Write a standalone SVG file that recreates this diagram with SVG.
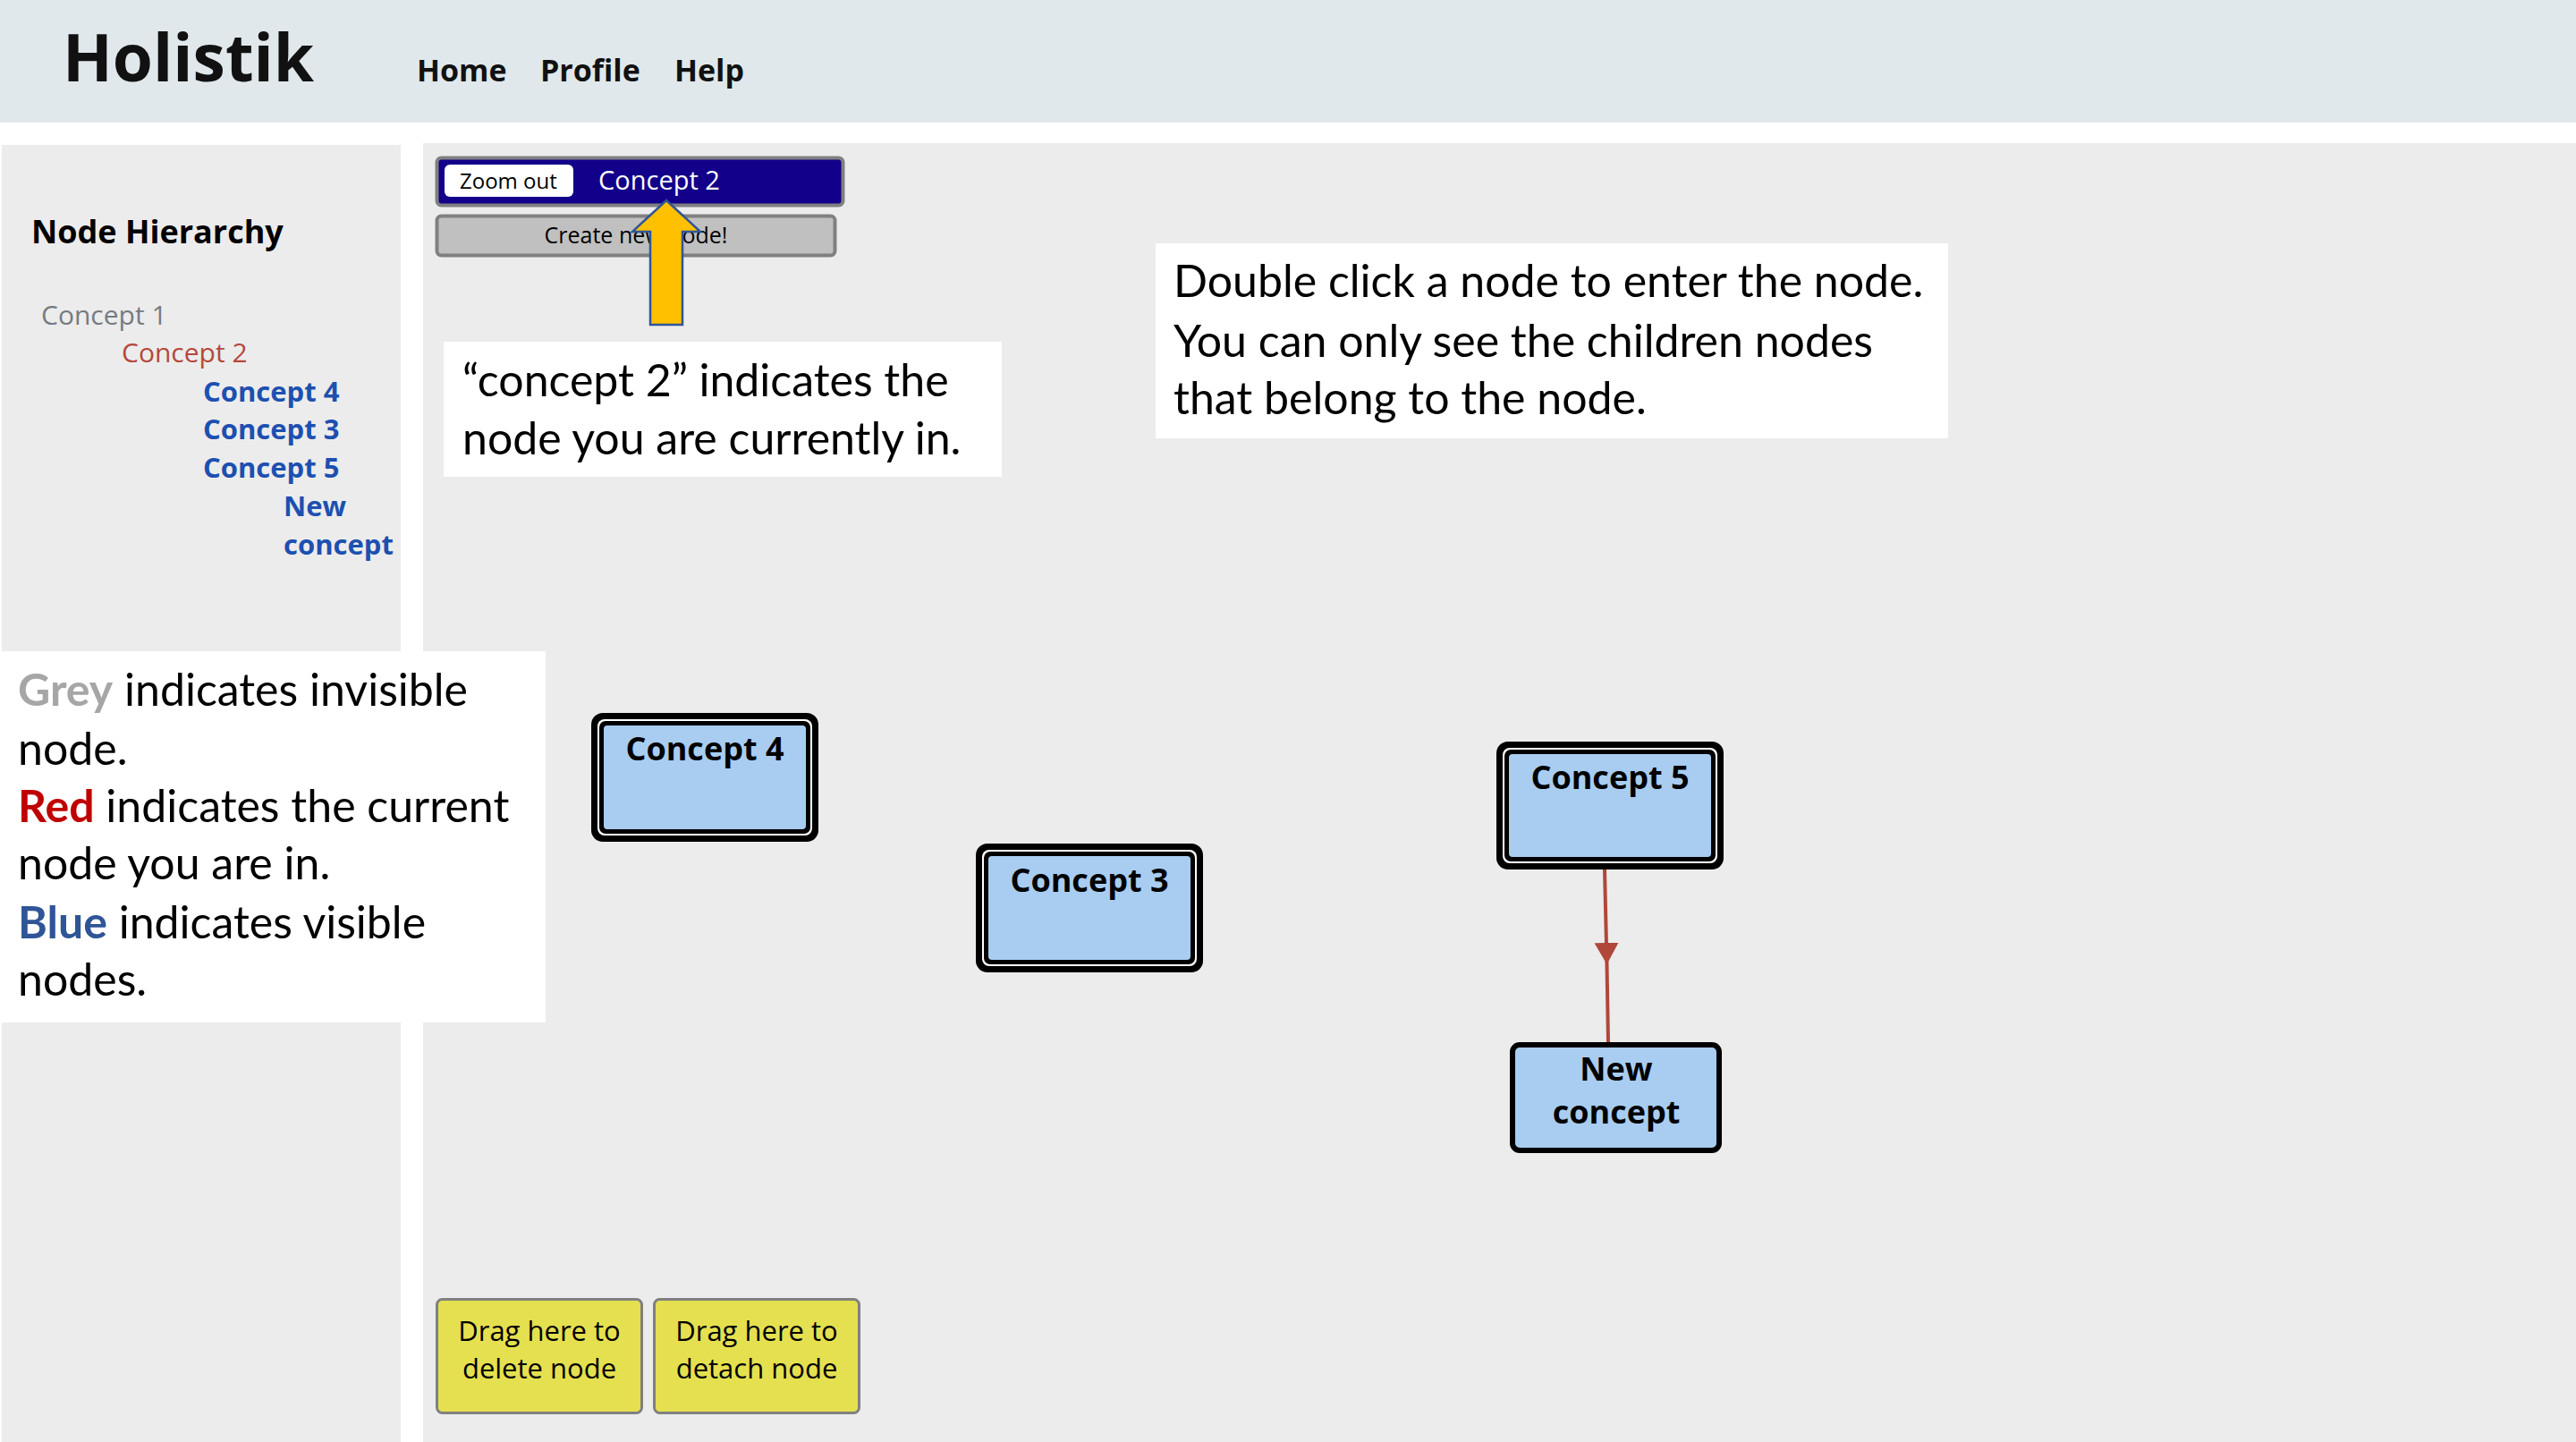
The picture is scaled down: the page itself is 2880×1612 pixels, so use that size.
<svg xmlns="http://www.w3.org/2000/svg" width="2880" height="1612" viewBox="0 0 2880 1612">
  <defs>
    <style>
      .app { font-family: "Open Sans", "Noto Sans", "DejaVu Sans", sans-serif; }
      .b { font-weight: 700; }
      .note { font-family: Lato, "Open Sans", sans-serif; font-size: 50px; fill: #000; }
      .hier { font-size: 30px; }
      .hierb { font-size: 31px; font-weight: 700; fill: #1d50b0; }
      .nlabel { font-size: 36px; font-weight: 700; fill: #000; text-anchor: middle; }
      .fill-node { fill: #a8cdf1; }
      .drop { fill: #e5e04f; stroke: #808080; stroke-width: 3; }
      .droptxt { font-size: 31px; fill: #000; text-anchor: middle; }
    </style>
    <marker id="arrowMid" markerUnits="userSpaceOnUse" viewBox="0 0 24 27" refX="24" refY="13.5" markerWidth="24" markerHeight="27" orient="auto">
      <path d="M0,0 L24,13.5 L0,27 z" fill="#b0473a"/>
    </marker>
  </defs>

  <!-- page background -->
  <rect x="0" y="0" width="2880" height="1612" fill="#ffffff"/>

  <!-- header -->
  <g id="header" class="app">
    <rect x="0" y="0" width="2880" height="137" fill="#e0e8eb"/>
    <text x="70" y="91" class="b" font-size="73" fill="#111">Holistik</text>
    <text x="466" y="91" class="b" font-size="34" fill="#111">Home</text>
    <text x="604" y="91" class="b" font-size="34" fill="#111">Profile</text>
    <text x="754" y="91" class="b" font-size="34" fill="#111">Help</text>
  </g>

  <!-- left panel -->
  <g id="hierarchy-panel" class="app">
    <rect x="2" y="162" width="446" height="1450" fill="#ececec"/>
    <text x="35" y="272" class="b" font-size="36" fill="#000">Node Hierarchy</text>
    <text x="46" y="363" class="hier" fill="#767b80">Concept 1</text>
    <text x="136" y="405" class="hier" fill="#b5483a">Concept 2</text>
    <text x="227" y="449" class="hierb">Concept 4</text>
    <text x="227" y="491" class="hierb">Concept 3</text>
    <text x="227" y="534" class="hierb">Concept 5</text>
    <text x="317" y="577" class="hierb">New</text>
    <text x="317" y="620" class="hierb">concept</text>
  </g>

  <!-- main canvas -->
  <g id="canvas">
    <rect x="473" y="160" width="2407" height="1452" fill="#ececec"/>
  </g>

  <!-- toolbar -->
  <g id="toolbar" class="app">
    <rect x="488.5" y="176.5" width="454" height="53" rx="5" fill="#12008a" stroke="#808080" stroke-width="4"/>
    <rect x="497" y="184" width="144" height="36" rx="6" fill="#ffffff"/>
    <text x="514" y="211" font-size="24" fill="#000">Zoom out</text>
    <text x="669" y="212" font-size="29" fill="#ffffff">Concept 2</text>
  </g>
  <g id="create-button" class="app">
    <rect x="488.5" y="241.5" width="445" height="44" rx="5" fill="#c0c0c0" stroke="#808080" stroke-width="4"/>
    <text x="711" y="272" font-size="25" fill="#000" text-anchor="middle">Create new node!</text>
  </g>

  <!-- yellow arrow -->
  <g id="yellow-arrow">
    <path d="M745,224 L783,259 L763,259 L763,363 L727,363 L727,259 L707,259 Z" fill="#ffc000" stroke="#2f5597" stroke-width="2.5" stroke-linejoin="miter"/>
  </g>

  <!-- annotation boxes -->
  <g id="note-current">
    <rect x="496" y="382" width="624" height="151" fill="#ffffff"/>
    <text x="517" y="443" class="note">“concept 2” indicates the</text>
    <text x="517" y="508" class="note">node you are currently in.</text>
  </g>
  <g id="note-doubleclick">
    <rect x="1292" y="272" width="886" height="218" fill="#ffffff"/>
    <text x="1312" y="332" class="note">Double click a node to enter the node.</text>
    <text x="1312" y="399" class="note">You can only see the children nodes</text>
    <text x="1312" y="463" class="note">that belong to the node.</text>
  </g>
  <g id="note-colours">
    <rect x="2" y="728" width="608" height="415" fill="#ffffff"/>
    <text x="20" y="789" class="note"><tspan fill="#a6a6a6" font-weight="700">Grey</tspan> indicates invisible</text>
    <text x="20" y="855" class="note">node.</text>
    <text x="20" y="919" class="note"><tspan fill="#c00000" font-weight="700">Red</tspan> indicates the current</text>
    <text x="20" y="983" class="note">node you are in.</text>
    <text x="20" y="1049" class="note"><tspan fill="#2f5597" font-weight="700">Blue</tspan> indicates visible</text>
    <text x="20" y="1113" class="note">nodes.</text>
  </g>

  <!-- connectors -->
  <g id="connectors">
    <path d="M1794,972 L1796.5,1078 L1798,1165" fill="none" stroke="#b0473a" stroke-width="4" marker-mid="url(#arrowMid)"/>
  </g>

  <!-- nodes -->
  <g id="node-concept4" class="app">
    <rect x="661" y="797" width="254" height="144" rx="13" fill="#000"/>
    <rect x="668" y="804" width="240" height="130" rx="8" fill="#fff"/>
    <rect x="670" y="806" width="236" height="126" rx="7" fill="#000"/>
    <rect x="675" y="811" width="226" height="116" rx="4" class="fill-node"/>
    <text x="788" y="850" class="nlabel">Concept 4</text>
  </g>
  <g id="node-concept3" class="app">
    <rect x="1091" y="943" width="254" height="144" rx="13" fill="#000"/>
    <rect x="1098" y="950" width="240" height="130" rx="8" fill="#fff"/>
    <rect x="1100" y="952" width="236" height="126" rx="7" fill="#000"/>
    <rect x="1105" y="957" width="226" height="116" rx="4" class="fill-node"/>
    <text x="1218" y="997" class="nlabel">Concept 3</text>
  </g>
  <g id="node-concept5" class="app">
    <rect x="1673" y="829" width="254" height="143" rx="13" fill="#000"/>
    <rect x="1680" y="836" width="240" height="129" rx="8" fill="#fff"/>
    <rect x="1682" y="838" width="236" height="125" rx="7" fill="#000"/>
    <rect x="1687" y="843" width="226" height="115" rx="4" class="fill-node"/>
    <text x="1800" y="882" class="nlabel">Concept 5</text>
  </g>
  <g id="node-new-concept" class="app">
    <rect x="1691" y="1168" width="231" height="118" rx="8" class="fill-node" stroke="#000" stroke-width="6"/>
    <text x="1807" y="1208" class="nlabel">New</text>
    <text x="1807" y="1256" class="nlabel">concept</text>
  </g>

  <!-- drop targets -->
  <g id="drop-delete" class="app">
    <rect x="488.5" y="1452.5" width="229" height="127" rx="6" class="drop"/>
    <text x="603" y="1499" class="droptxt">Drag here to</text>
    <text x="603" y="1541" class="droptxt">delete node</text>
  </g>
  <g id="drop-detach" class="app">
    <rect x="731.5" y="1452.5" width="229" height="127" rx="6" class="drop"/>
    <text x="846" y="1499" class="droptxt">Drag here to</text>
    <text x="846" y="1541" class="droptxt">detach node</text>
  </g>
</svg>
